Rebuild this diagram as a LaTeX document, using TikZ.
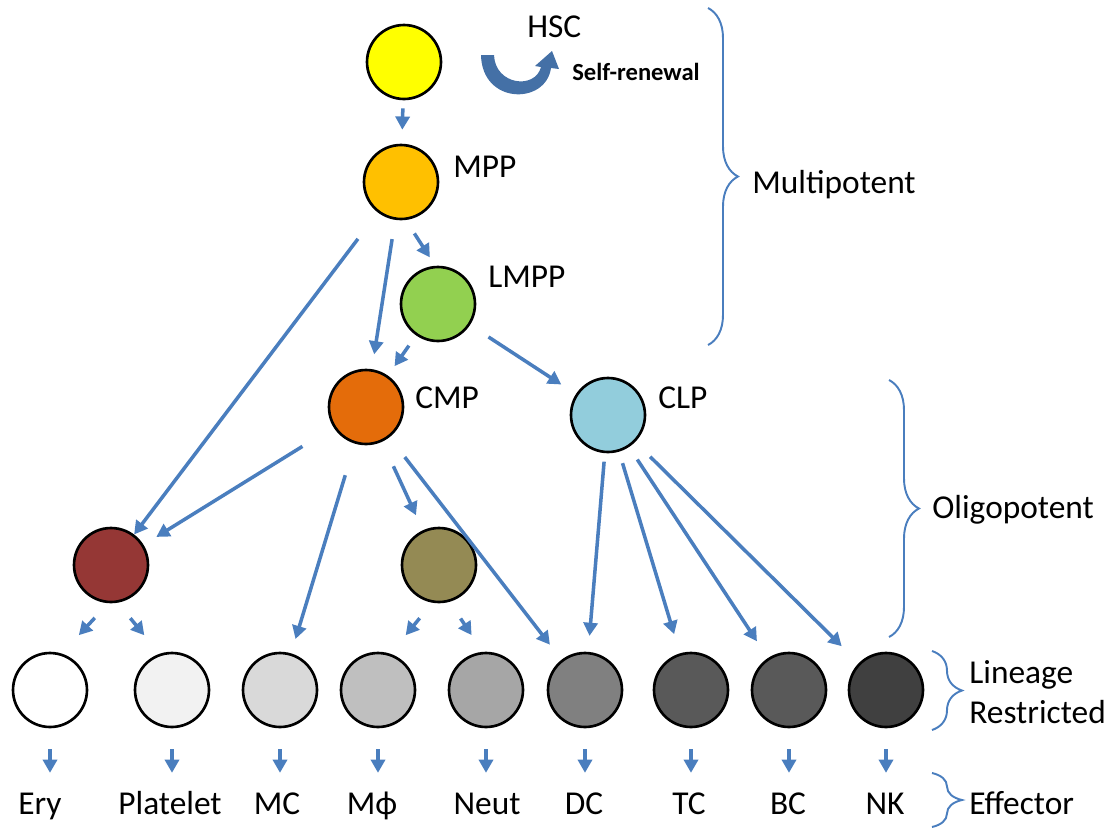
\documentclass[tikz,border=0pt]{standalone}
\usepackage{fontspec}
\setmainfont{Carlito}
\usetikzlibrary{arrows.meta,decorations.pathreplacing}

\definecolor{linkblue}{RGB}{74,126,190}
\definecolor{renewblue}{RGB}{68,112,166}

\tikzstyle{cell} = [circle, draw=black, line width=1.5pt,
minimum size=1.48cm, inner sep=0pt]
\tikzstyle{link} = [draw=linkblue, line width=2pt,
-{Triangle[length=7.5pt, width=8pt]}]
\tikzstyle{bracket} = [draw=linkblue, line width=1.1pt, decorate,
decoration={brace, amplitude=0.6cm}]
\tikzstyle{tag} = [font=\fontsize{19}{23}\selectfont, inner sep=0pt, anchor=base west]
\tikzstyle{fate} = [font=\fontsize{19}{23}\selectfont, inner sep=0pt, anchor=base,
text height=13pt, text depth=4pt]
\tikzstyle{stage} = [font=\fontsize{19}{22.7}\selectfont, inner sep=0pt, align=left]

\begin{document}
\begin{tikzpicture}[x=0.02cm, y=-0.02cm]
\useasboundingbox (0,0) rectangle (1113,829);

% progenitors
\node (hsc) [cell, fill={rgb,255:red,255;green,255;blue,0}] at (404,62) {};
\node (mpp) [cell, fill={rgb,255:red,255;green,192;blue,0}] at (401,182) {};
\node (lmpp) [cell, fill={rgb,255:red,146;green,208;blue,80}] at (438,304) {};
\node (cmp) [cell, fill={rgb,255:red,228;green,108;blue,10}] at (366,407) {};
\node (clp) [cell, fill={rgb,255:red,146;green,205;blue,220}] at (608,415) {};
\node (mep) [cell, fill={rgb,255:red,149;green,55;blue,53}] at (111,565) {};
\node (gmp) [cell, fill={rgb,255:red,148;green,138;blue,84}] at (439,565) {};

% lineage restricted
\node (ery) [cell, fill=white] at (50,690) {};
\node (plt) [cell, fill={rgb,255:red,242;green,242;blue,242}] at (172,690) {};
\node (mc) [cell, fill={rgb,255:red,217;green,217;blue,217}] at (280,690) {};
\node (mac) [cell, fill={rgb,255:red,191;green,191;blue,191}] at (378,690) {};
\node (neut) [cell, fill={rgb,255:red,166;green,166;blue,166}] at (486,690) {};
\node (dc) [cell, fill={rgb,255:red,128;green,128;blue,128}] at (585,690) {};
\node (tc) [cell, fill={rgb,255:red,89;green,89;blue,89}] at (691,690) {};
\node (bc) [cell, fill={rgb,255:red,89;green,89;blue,89}] at (789,690) {};
\node (nk) [cell, fill={rgb,255:red,64;green,64;blue,64}] at (886,690) {};

% names
\node (hsc name) [tag] at (527,37) {HSC};
\node (renew name) [tag, font=\fontsize{14}{16}\selectfont\bfseries] at (572,80) {Self-renewal};
\node (mpp name) [tag] at (453,177) {MPP};
\node (lmpp name) [tag] at (488,287) {LMPP};
\node (cmp name) [tag] at (415,408) {CMP};
\node (clp name) [tag] at (658,408) {CLP};

% effectors
\node (lery) [fate] at (40,814) {Ery};
\node (lplt) [fate] at (170,814) {Platelet};
\node (lmc) [fate] at (277,814) {MC};
\node (lmac) [fate] at (372,814) {Mϕ};
\node (lneut) [fate] at (487,814) {Neut};
\node (ldc) [fate] at (584,814) {DC};
\node (ltc) [fate] at (689,814) {TC};
\node (lbc) [fate] at (788,814) {BC};
\node (lnk) [fate] at (885,814) {NK};

% stages
\node (multi) [stage, anchor=base west] at (752,193) {Multipotent};
\node (oligo) [stage, anchor=base west] at (932,518) {Oligopotent};
\node (restr) [stage, anchor=west] at (969,692) {Lineage\\Restricted};
\node (effec) [stage, anchor=base west] at (969,814) {Effector};

% self-renewal
\fill [renewblue] (481,55) -- (494,55) .. controls (495,85) and (535,90) .. (541,67)
  -- (535,66) -- (552,51) -- (559,69) -- (551,68)
  .. controls (546,105) and (482,105) .. (481,55) -- cycle;

\draw [link, shorten <=0.16cm, shorten >=0.28cm] (hsc) -- (mpp);
\draw [link, shorten <=0.66cm] (mpp) -- (mep);
\draw [link, shorten <=0.39cm, shorten >=0.3cm] (mpp) -- (cmp);
\draw [link, shorten <=0.32cm, shorten >=0.2cm] (mpp.-83) -- (lmpp.94);
\draw [link, shorten <=0.25cm, shorten >=0.23cm] (lmpp) -- (cmp);
\draw [link, shorten <=0.44cm, shorten >=0.35cm] (lmpp) -- (clp);
\draw [link, shorten <=0.73cm, shorten >=0.3cm] (cmp) -- (mep);
\draw [link, shorten <=0.66cm, shorten >=0.3cm] (cmp) -- (mc);
\draw [link, shorten <=0.54cm, shorten >=0.33cm] (cmp) -- (gmp);
\draw [link, shorten <=0.5cm, shorten >=0.38cm] (cmp) -- (dc);
\draw [link, shorten <=0.17cm, shorten >=0.32cm] (clp) -- (dc);
\draw [link, shorten <=0.24cm, shorten >=0.4cm] (clp) -- (tc);
\draw [link, shorten <=0.3cm, shorten >=0.4cm] (clp) -- (bc);
\draw [link, shorten <=0.42cm, shorten >=0.48cm] (clp) -- (nk);
\draw [link, shorten <=0.4cm, shorten >=0.5cm] (mep.-94) -- (ery.72);
\draw [link, shorten <=0.4cm, shorten >=0.48cm] (mep.-80) -- (plt.109);
\draw [link, shorten <=0.4cm, shorten >=0.48cm] (gmp.-100) -- (mac.71);
\draw [link, shorten <=0.4cm, shorten >=0.4cm] (gmp.-74) -- (neut.95);

\draw [link, shorten <=0.42cm, shorten >=0.36cm] (ery) -- (ery |- lery.north);
\draw [link, shorten <=0.42cm, shorten >=0.36cm] (plt) -- (plt |- lplt.north);
\draw [link, shorten <=0.42cm, shorten >=0.36cm] (mc) -- (mc |- lmc.north);
\draw [link, shorten <=0.42cm, shorten >=0.36cm] (mac) -- (mac |- lmac.north);
\draw [link, shorten <=0.42cm, shorten >=0.36cm] (neut) -- (neut |- lneut.north);
\draw [link, shorten <=0.42cm, shorten >=0.36cm] (dc) -- (dc |- ldc.north);
\draw [link, shorten <=0.42cm, shorten >=0.36cm] (tc) -- (tc |- ltc.north);
\draw [link, shorten <=0.42cm, shorten >=0.36cm] (bc) -- (bc |- lbc.north);
\draw [link, shorten <=0.42cm, shorten >=0.36cm] (nk) -- (nk |- lnk.north);

\draw [bracket] (708,8) -- (708,345);
\draw [bracket] (889,380) -- (889,637);
\draw [bracket] (932,651) -- (932,730);
\draw [bracket] (932,773) -- (932,827);
\end{tikzpicture}
\end{document}
